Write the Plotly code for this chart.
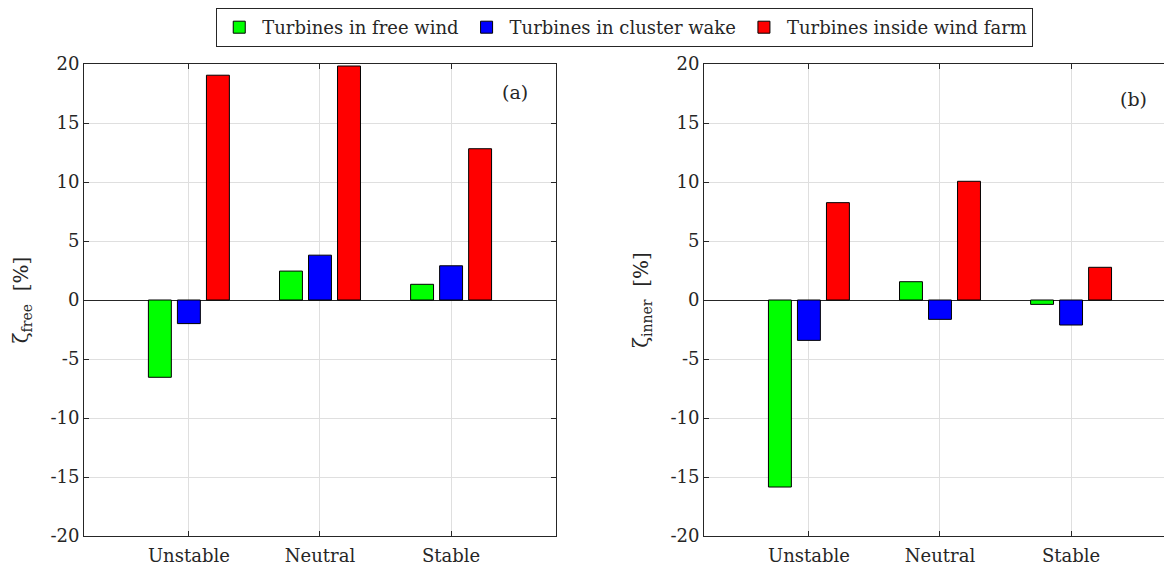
import plotly.graph_objects as go

categories = ["Unstable", "Neutral", "Stable"]
series_names = ["Turbines in free wind", "Turbines in cluster wake", "Turbines inside wind farm"]
colors = ["#00ff00", "#0000ff", "#ff0000"]

# panel (a): zeta_free [%]
free_wind_a = [-6.55, 2.45, 1.33]
cluster_wake_a = [-2.0, 3.8, 2.9]
inside_farm_a = [19.05, 19.83, 12.82]

# panel (b): zeta_inner [%]
free_wind_b = [-15.85, 1.55, -0.37]
cluster_wake_b = [-3.42, -1.64, -2.12]
inside_farm_b = [8.25, 10.06, 2.77]

yticks = [-20, -15, -10, -5, 0, 5, 10, 15, 20]
xpos = [1, 2, 3]

FONT = "DejaVu Serif"
TXT = "#262626"

fig = go.Figure()
for i, (name, vals) in enumerate(zip(series_names, [free_wind_a, cluster_wake_a, inside_farm_a])):
    fig.add_trace(go.Bar(x=xpos, y=vals, name=name, marker=dict(color=colors[i], line=dict(color="black", width=1)),
                         xaxis="x", yaxis="y", offsetgroup=str(i), legendgroup=name))
for i, (name, vals) in enumerate(zip(series_names, [free_wind_b, cluster_wake_b, inside_farm_b])):
    fig.add_trace(go.Bar(x=xpos, y=vals, name=name, marker=dict(color=colors[i], line=dict(color="black", width=1)),
                         xaxis="x2", yaxis="y2", offsetgroup=str(i), legendgroup=name, showlegend=False))

axis_common = dict(showline=True, linecolor=TXT, linewidth=1, mirror="allticks", ticks="inside",
                   ticklen=5, tickcolor=TXT, showgrid=True, gridcolor="#dfdfdf", gridwidth=1,
                   tickfont=dict(family=FONT, size=18, color=TXT))

xa = dict(axis_common, range=[0.2, 3.8], tickvals=xpos, ticktext=categories, zeroline=False,
          ticklabelstandoff=3)
ya = dict(axis_common, range=[-20, 20], tickvals=yticks, ticktext=[str(v) for v in yticks],
          zeroline=True, zerolinecolor=TXT, zerolinewidth=1)

# the page body adds an 8 px offset; size the figure so the plot areas land where the reference has them
fig.update_layout(
    width=1164, height=561,
    margin=dict(l=76, r=0, t=56, b=33),
    paper_bgcolor="white", plot_bgcolor="white",
    barmode="group", bargap=0.336, bargroupgap=0.21,
    font=dict(family=FONT, size=18, color=TXT),
    xaxis=dict(xa, domain=[0, 0.4338], anchor="y"),
    yaxis=dict(ya, domain=[0, 1], anchor="x",
               title=dict(text="ζ<sub>free</sub>  [%]", font=dict(family=FONT, size=20), standoff=16)),
    xaxis2=dict(xa, range=[0.2, 3.77], domain=[0.5699, 1], anchor="y2"),
    yaxis2=dict(ya, domain=[0, 1], anchor="x2",
                title=dict(text="ζ<sub>inner</sub>  [%]", font=dict(family=FONT, size=20), standoff=16)),
    legend=dict(orientation="h", x=0.497, xanchor="center", y=1.119, yanchor="top",
                bordercolor=TXT, borderwidth=1, bgcolor="white",
                font=dict(family=FONT, size=18, color=TXT),
                itemwidth=36, tracegroupgap=0),
    annotations=[
        dict(text="(a)", x=3.49, y=17.6, xref="x", yref="y", showarrow=False,
             font=dict(family=FONT, size=19, color=TXT)),
        dict(text="(b)", x=3.48, y=17.0, xref="x2", yref="y2", showarrow=False,
             font=dict(family=FONT, size=19, color=TXT)),
    ],
)

fig.write_html("out.html")
